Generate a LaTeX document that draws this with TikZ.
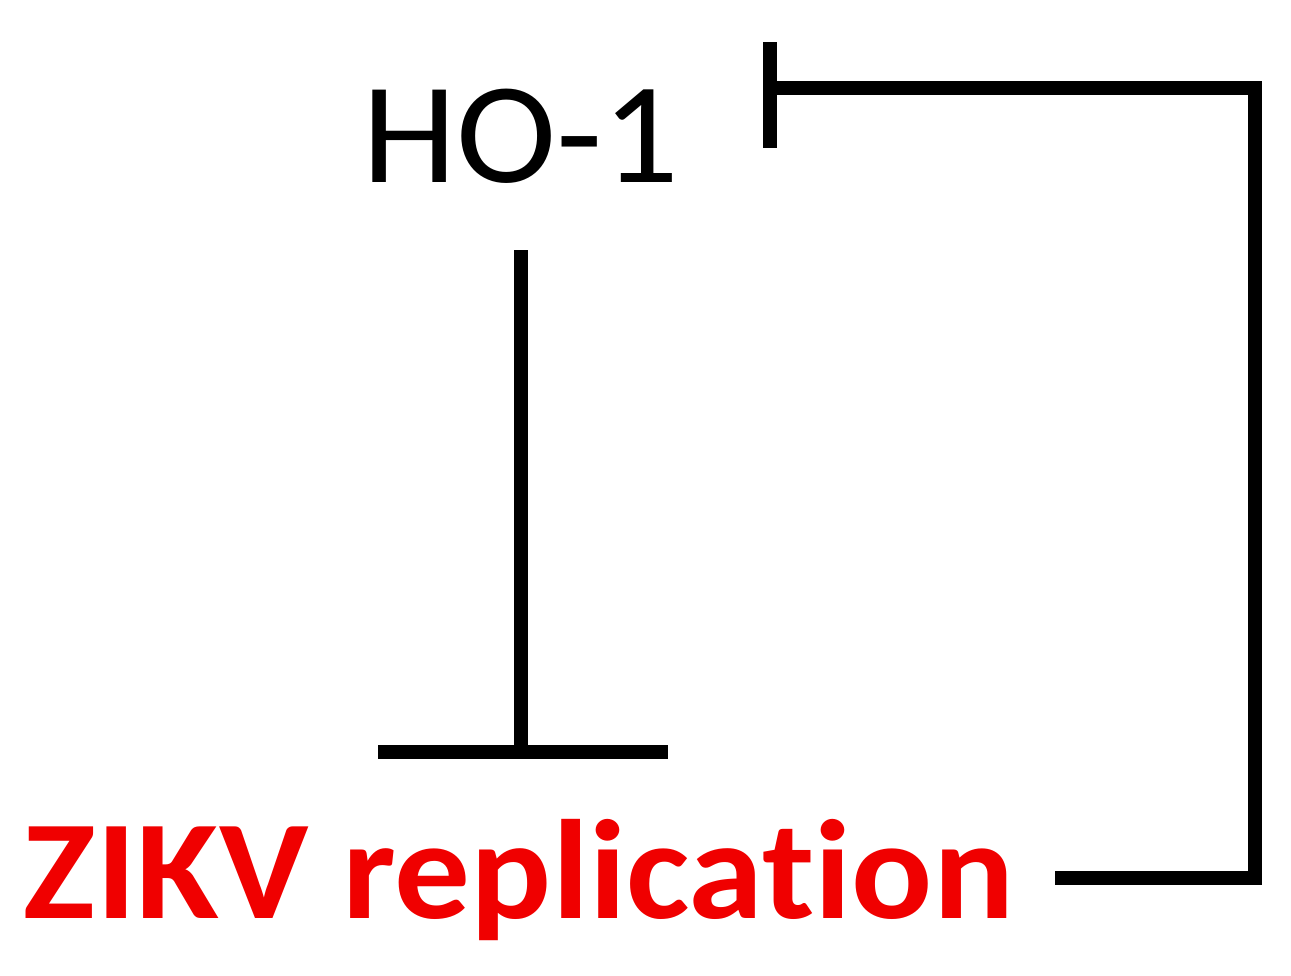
\documentclass[tikz,border=0pt]{standalone}
\usepackage{fontspec}
\setmainfont[Ligatures={NoCommon}]{Carlito}
\definecolor{zred}{RGB}{240,0,0}
\begin{document}
\begin{tikzpicture}[x=0.75pt,y=-0.75pt,
  conn/.style={line width=10.5pt,line cap=butt,line join=miter},
  lbl/.style={inner sep=0pt,anchor=base}]
\useasboundingbox (0,0) rectangle (1291,975);
\node[lbl,font=\fontsize{108}{120}\selectfont] (ho1) at (521,182) {\scalebox{1.05}[1]{HO-1}};
\node[lbl,font=\fontsize{106}{120}\selectfont\bfseries,text=zred] (zikv) at (519,918) {\scalebox{1.07}[1]{ZIKV replication}};
% inhibition HO-1 -> ZIKV
\coordinate (a1) at (521,250);
\coordinate (a2) at (521,752);
\draw[conn] (a1) -- (a2);
\draw[conn] (378,752) -- (668,752);
% feedback ZIKV -| HO-1
\coordinate (b1) at (1055,878);
\coordinate (b2) at (770,88);
\draw[conn] (b1) -- (1255,878) -- (1255,88) -- (b2);
\draw[conn] (770,42) -- (770,148);
\end{tikzpicture}
\end{document}
